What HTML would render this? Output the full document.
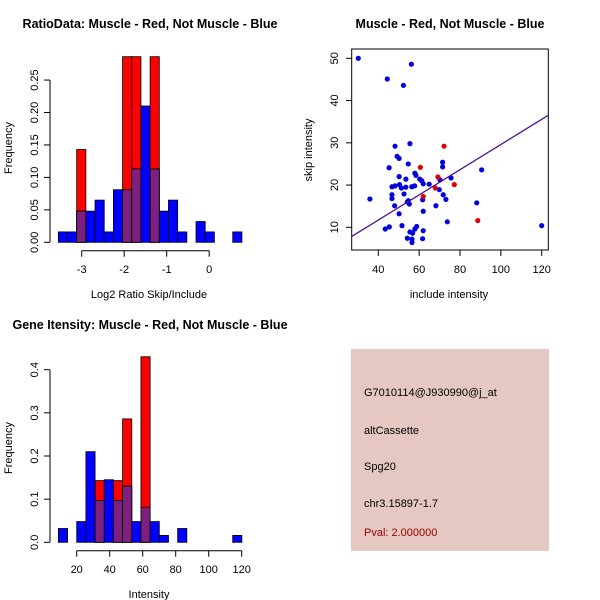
<!DOCTYPE html>
<html><head><meta charset="utf-8"><style>
body{margin:0;background:#fff}
svg{display:block;font-family:"Liberation Sans",sans-serif}
</style></head><body>
<svg id="s" width="600" height="600" viewBox="0 0 600 600">
<rect width="600" height="600" fill="#fff"/>
<text x="150" y="28" font-size="12.5" font-weight="bold" text-anchor="middle">RatioData: Muscle - Red, Not Muscle - Blue</text>
<text x="450" y="28" font-size="12.5" font-weight="bold" text-anchor="middle">Muscle - Red, Not Muscle - Blue</text>
<text x="150" y="329" font-size="12.5" font-weight="bold" text-anchor="middle">Gene Itensity: Muscle - Red, Not Muscle - Blue</text>
<text x="149" y="298" font-size="11" text-anchor="middle">Log2 Ratio Skip/Include</text>
<text transform="translate(12,148) rotate(-90)" font-size="11" text-anchor="middle">Frequency</text>
<text x="449" y="298" font-size="11" text-anchor="middle">include intensity</text>
<text transform="translate(312,150) rotate(-90)" font-size="11" text-anchor="middle">skip intensity</text>
<text x="149" y="598" font-size="11" text-anchor="middle">Intensity</text>
<text transform="translate(12,448) rotate(-90)" font-size="11" text-anchor="middle">Frequency</text>
<g>
<rect x="351" y="349" width="198" height="202" fill="#e5c8c1"/>
<text x="364" y="396" font-size="11">G7010114@J930990@j_at</text>
<text x="364" y="434" font-size="11">altCassette</text>
<text x="364" y="470" font-size="11">Spg20</text>
<text x="364" y="507" font-size="11">chr3.15897-1.7</text>
<text x="364" y="536" font-size="11" fill="#a00000">Pval: 2.000000</text>
</g>
</svg>
<script>
// Ratio histogram data
const ratioBinStart = -3.55, ratioBinWidth = 0.216;
const ratioBlue = [0.016,0.016,0.048,0.048,0.065,0.016,0.081,0.081,0.113,0.21,0.113,0.048,0.065,0.016,0,0.032,0.016,0,0,0.016];
const ratioRed  = [0,0,0.143,0,0,0,0,0.286,0.286,0,0.286,0,0,0,0,0,0,0,0,0];
const ratioXTicks = [-3,-2,-1,0];
const ratioYTicks = ["0.00","0.05","0.10","0.15","0.20","0.25"];
// Intensity histogram data
const intBinStart = 8.9, intBinWidth = 5.56;
const intBlue = [0.032,0,0.048,0.21,0.097,0.145,0.097,0.13,0.048,0.081,0.048,0.016,0,0.032,0,0,0,0,0,0.016];
const intRed  = [0,0,0,0,0.143,0,0.143,0.286,0,0.43,0,0,0,0,0,0,0,0,0,0];
const intXTicks = [20,40,60,80,100,120];
const intYTicks = ["0.0","0.1","0.2","0.3","0.4"];
// Scatter data
const blueX = [30.2,44.4,56.2,52.3,55.5,48.2,49.2,50.2,45.3,54.7,50.2,53.5,57.9,58.4,60.3,61.3,62,64.9,46.7,48.2,50.4,51.3,53.5,56.4,57.8,35.9,46.7,46.7,52.6,54.7,55.2,54.2,48,50.2,61.7,62,69.9,70.2,71.5,71.5,71.8,73.1,75.6,68.2,73.8,51.6,43.4,45.4,58.8,57.9,55.5,56.8,54.2,56.5,56.5,61.7,62,88.2,90.6,120];
const blueY = [50,45.1,48.6,43.6,29.8,29.2,26.8,26.3,24.1,25,22,21.4,22.8,22.3,21.4,21,20.3,20.2,19.6,19.8,20.1,19.3,19.5,19.6,19.8,16.7,17.7,16.8,17.9,16.3,15.5,16,15.1,13.2,16.5,13.8,18.9,21.2,25.4,24.3,17.7,16.6,21.7,15.1,11.3,10.4,9.6,10.1,10.2,9.6,8.9,8.6,7.4,7.2,6.4,7.3,9.2,15.8,23.6,10.4];
const redX = [60.6,72.2,69.2,67.9,77.2,62,88.7];
const redY = [24.2,29.2,21.9,19.3,20.1,17.3,11.6];
const fitIntercept = -0.2, fitSlope = 0.298;
const scXTicks = [40,60,80,100,120];
const scYTicks = [10,20,30,40,50];

const svg = document.getElementById('s');
const NS = 'http://www.w3.org/2000/svg';
function mk(tag, attrs, parent){const e=document.createElementNS(NS,tag);for(const k in attrs)e.setAttribute(k,attrs[k]);(parent||svg).appendChild(e);return e;}

function hist(name, start, width, blue, red, xs, ys, yTicks, xTicks, axY, xTickY){
  const g = mk('g',{});
  
  
  for(let i=0;i<blue.length;i++){
    const x0=xs(start+i*width), x1=xs(start+(i+1)*width);
    const b=blue[i], r=red[i];
    if(r>0){
      const e=mk('rect',{x:x0,y:ys(r),width:x1-x0,height:ys(0)-ys(r),fill:'#ff0000',stroke:'#000','stroke-width':0.8},g);
      
      
    }
    if(b>0){
      const e=mk('rect',{x:x0,y:ys(b),width:x1-x0,height:ys(0)-ys(b),fill:'#0000ff',stroke:'#000','stroke-width':0.8},g);
      
      
    }
    if(b>0&&r>0){
      const m=Math.min(b,r);
      const e=mk('rect',{x:x0,y:ys(m),width:x1-x0,height:ys(0)-ys(m),fill:'#7f1f7f',stroke:'#000','stroke-width':0.8},g);
      
      
    }
  }
  // y axis
  const yv=yTicks.map(parseFloat);
  mk('line',{x1:50,x2:50,y1:ys(yv[0]),y2:ys(yv[yv.length-1]),stroke:'#000'},g);
  yTicks.forEach((t,i)=>{
    mk('line',{x1:44,x2:50,y1:ys(yv[i]),y2:ys(yv[i]),stroke:'#000'},g);
    const tx=mk('text',{transform:`translate(38,${ys(yv[i])}) rotate(-90)`,'font-size':11,'text-anchor':'middle'},g);
    tx.textContent=t;
    
    
  });
  // x axis
  mk('line',{x1:xs(xTicks[0]),x2:xs(xTicks[xTicks.length-1]),y1:axY,y2:axY,stroke:'#000'},g);
  xTicks.forEach(t=>{
    mk('line',{x1:xs(t),x2:xs(t),y1:axY,y2:axY+6,stroke:'#000'},g);
    const tx=mk('text',{x:xs(t),y:xTickY,'font-size':11,'text-anchor':'middle'},g);
    tx.textContent=String(t).replace('-','\u2212').replace('\u2212','-');
    
    
  });
}
hist('ratio-histogram', ratioBinStart, ratioBinWidth, ratioBlue, ratioRed,
  v=>81.7+(v+3)*42.5, v=>242.3-v*649, ratioYTicks, ratioXTicks, 250.7, 273);
hist('intensity-histogram', intBinStart, intBinWidth, intBlue, intRed,
  v=>76.7+(v-20)*1.65, v=>542.3-v*431.5, intYTicks, intXTicks, 550.7, 573);

// scatter
const sx=v=>378.3+(v-40)*2.0425, sy=v=>227.3-(v-10)*4.225;
const sg=mk('g',{});


const box=mk('rect',{x:351.7,y:49,width:196.6,height:201,fill:'none',stroke:'#000'},sg);


mk('line',{x1:sx(40),x2:sx(120),y1:250,y2:250,stroke:'#000'},sg);
scXTicks.forEach(t=>{
  mk('line',{x1:sx(t),x2:sx(t),y1:250,y2:256,stroke:'#000'},sg);
  const tx=mk('text',{x:sx(t),y:273,'font-size':11,'text-anchor':'middle'},sg);
  tx.textContent=t;
  
  
});
scYTicks.forEach(t=>{
  mk('line',{x1:346,x2:351.7,y1:sy(t),y2:sy(t),stroke:'#000'},sg);
  const tx=mk('text',{transform:`translate(338,${sy(t)}) rotate(-90)`,'font-size':11,'text-anchor':'middle'},sg);
  tx.textContent=t;
  
  
});
blueX.forEach((x,i)=>{
  const c=mk('circle',{cx:sx(x),cy:sy(blueY[i]),r:2.6,fill:'#0000e0'},sg);
  
  
});
redX.forEach((x,i)=>{
  const c=mk('circle',{cx:sx(x),cy:sy(redY[i]),r:2.6,fill:'#e00000'},sg);
  
  
});
const lx0=26.9, lx1=123.3;
const ln=mk('line',{x1:sx(lx0),y1:sy(fitIntercept+fitSlope*lx0),x2:sx(lx1),y2:sy(fitIntercept+fitSlope*lx1),stroke:'#4b1090','stroke-width':1.3},sg);


</script>
</body></html>
